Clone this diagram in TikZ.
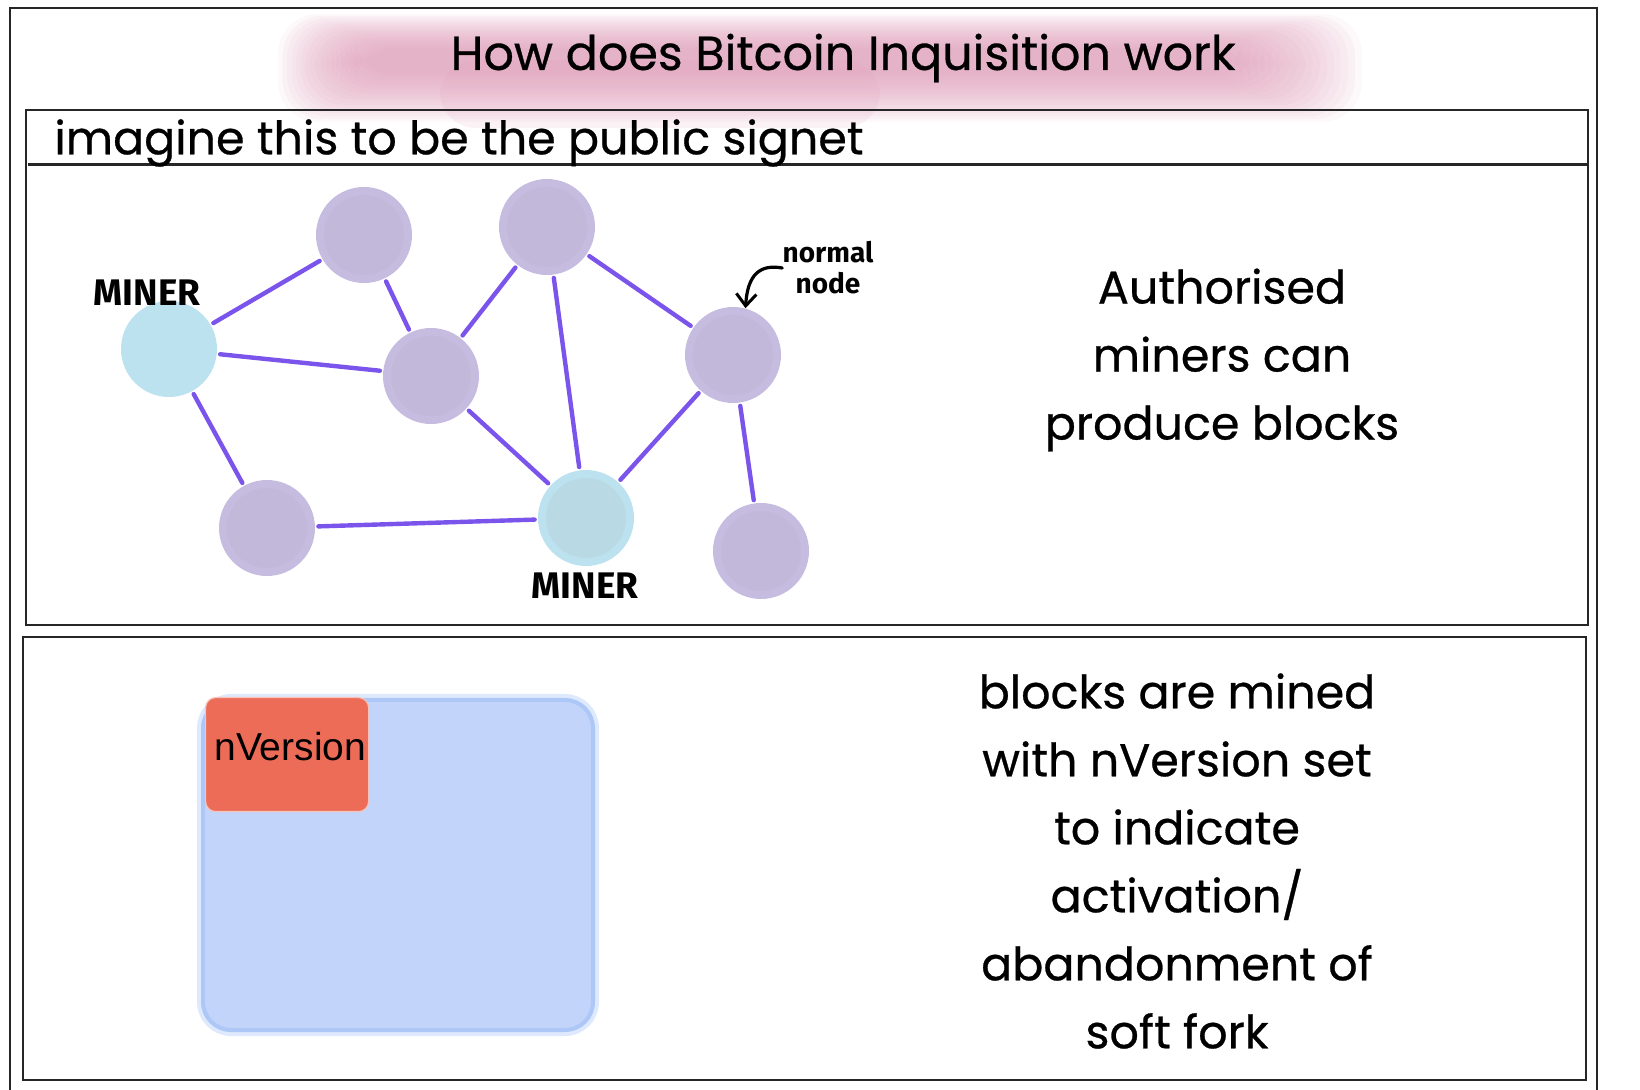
\documentclass[tikz,border=0pt]{standalone}
\usepackage{fontspec}
\setmainfont{Poppins}
\newfontfamily\handfont{Fira Sans}
\newfontfamily\arialfont{Liberation Sans}
\usetikzlibrary{arrows.meta,positioning,calc}
\definecolor{nodepurple}{HTML}{C6BCE0}
\definecolor{nodepurpleinner}{HTML}{C1B8DA}
\definecolor{minerblue}{HTML}{BCE1EF}
\definecolor{minerblueinner}{HTML}{B9D9E5}
\definecolor{linkpurple}{HTML}{7B54EC}
\definecolor{titlepink}{HTML}{DB94B1}
\definecolor{blockblue}{HTML}{C2D4FA}
\definecolor{blockedge}{HTML}{ADC7F7}
\definecolor{blockhalo}{HTML}{DFE9FD}
\definecolor{versionred}{HTML}{EC6C58}
\definecolor{framegray}{HTML}{262626}
\tikzset{
  netnode/.style={circle,fill=nodepurple,minimum size=48pt,inner sep=0pt,
    path picture={\fill[nodepurpleinner] (path picture bounding box.center) circle (20pt);}},
  netminer/.style={circle,fill=minerblue,minimum size=48pt,inner sep=0pt},
  netlink/.style={draw=linkpurple,line width=2.2pt,line cap=round,shorten <=1.5pt,shorten >=1.5pt},
  minerlabel/.style={inner sep=0pt,font=\handfont\bfseries\fontsize{18.5}{18}\selectfont},
  notelabel/.style={inner sep=0pt,align=center,font=\handfont\bfseries\fontsize{14}{15.5}\selectfont},
  notearrow/.style={-{Straight Barb[length=6pt,width=10pt,line width=1.5pt]},line width=1.6pt,line cap=round},
  sidetext/.style={align=center,inner sep=0pt,font=\addfontfeatures{FakeBold=0.6}\fontsize{23}{34}\selectfont},
  panelframe/.style={draw=framegray,line width=1pt},
  blockbox/.style={fill=blockblue,draw=blockedge,line width=2pt,rounded corners=14pt,
    preaction={draw=blockhalo,line width=6pt,rounded corners=14pt}},
  versionbox/.style={fill=versionred,draw=versionred!40!white,line width=0.6pt,rounded corners=5pt,anchor=north west}
}
\begin{document}
\begin{tikzpicture}[x=0.5pt,y=-0.5pt]
  \useasboundingbox (0,0) rectangle (1640,1090);
  % brush stroke behind the heading
  \foreach \k in {0,...,17}
    \fill[titlepink,opacity=0.065,rounded corners=20pt] (278+\k*4.5,14+\k*2) rectangle (1362-\k*7,122-\k*2.8);
  \fill[titlepink,opacity=0.12,rounded corners=18pt] (440,60) rectangle (880,128);
  % frames
  \draw[panelframe] (10,1100) -- (10,8) -- (1597,8) -- (1597,1100);
  \draw[panelframe] (26,110) rectangle (1588,625);
  \draw[panelframe,line width=1.5pt] (28,165) -- (1588,165);
  \draw[panelframe] (23,637) rectangle (1586,1080);
  \node (title) at (843,58) {\addfontfeatures{FakeBold=0.6}\fontsize{23.8}{30}\selectfont How does Bitcoin Inquisition work};
  \node[anchor=west,inner sep=0pt] (signet) at (54,143) {\addfontfeatures{FakeBold=0.6}\fontsize{23}{30}\selectfont imagine this to be the public signet};

  % the network
  \node[netminer] (miner1) at (169,349) {};
  \node[netnode] (n1) at (364,235) {};
  \node[netnode] (n2) at (547,227) {};
  \node[netnode] (n3) at (431,376) {};
  \node[netnode] (n4) at (733,355) {};
  \node[netnode] (n5) at (267,528) {};
  \node[netminer,path picture={\fill[minerblueinner] (path picture bounding box.center) circle (20pt);}] (miner2) at (586,518) {};
  \node[netnode] (n6) at (761,551) {};
  \draw[netlink] (miner1) -- (n1);
  \draw[netlink] (miner1) -- (n3);
  \draw[netlink] (miner1) -- (n5);
  \draw[netlink] (n1) -- (n3);
  \draw[netlink] (n2) -- (n3);
  \draw[netlink] (n2) -- (miner2);
  \draw[netlink] (n2) -- (n4);
  \draw[netlink] (n3) -- (miner2);
  \draw[netlink] (n4) -- (miner2);
  \draw[netlink] (n4) -- (n6);
  \draw[netlink] (n5) -- (miner2);
  \node[minerlabel] (miner1label) at (147,293) {MINER};
  \node[minerlabel] (miner2label) at (585,586) {MINER};
  \node[notelabel] (normal) at (828,268) {normal\\node};
  \draw[notearrow] (normal.west) .. controls +(-22,-4) and +(2,-34) .. (n4.75);

  \node[sidetext] (authorised) at (1222,360) {Authorised\\miners can\\produce blocks};

  % the block
  \node[blockbox,minimum width=195pt,minimum height=165pt] (block) at (398,865) {};
  \node[versionbox,minimum width=81.5pt,minimum height=57pt] (version) at (205,697) {};
  \node[anchor=west,inner sep=0pt,font=\arialfont\fontsize{19.5}{20}\selectfont] (nversion) at (214,747) {nVersion};

  \node[sidetext] (mined) at (1177,861) {blocks are mined\\with nVersion set\\to indicate\\activation/\\abandonment of\\soft fork};
\end{tikzpicture}
\end{document}
